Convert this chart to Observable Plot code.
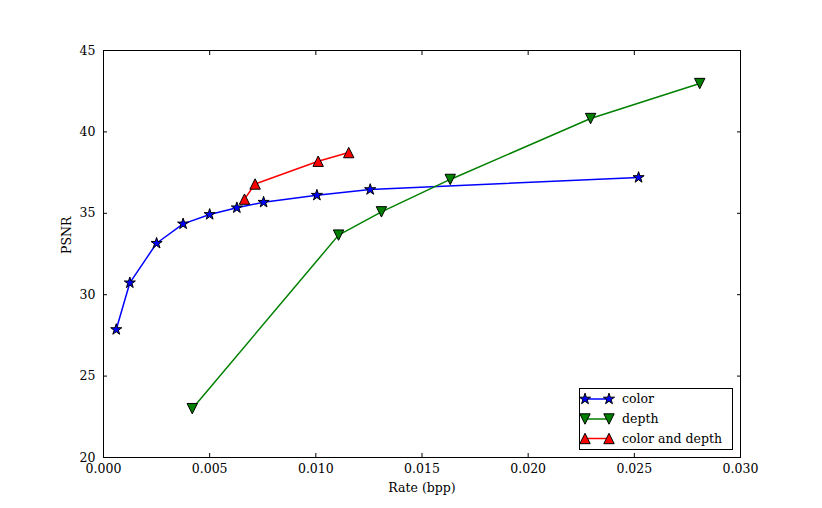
<!DOCTYPE html>
<html>
<head>
<meta charset="utf-8">
<script src="https://cdn.jsdelivr.net/npm/d3@7"></script>
<script src="https://cdn.jsdelivr.net/npm/@observablehq/plot@0.6"></script>
<style>
  html, body { margin: 0; padding: 0; background: white; }
</style>
</head>
<body>
<div id="chart"></div>
<script>
// ---- data ----
const seriesNames = ["color", "depth", "color and depth"];
const seriesColors = ["#0000ff", "#008000", "#ff0000"];

const colorRate = [0.0006, 0.00124, 0.0025, 0.00375, 0.005, 0.00628, 0.00754, 0.01005, 0.01256, 0.0252];
const colorPsnr = [27.86, 30.73, 33.16, 34.35, 34.93, 35.34, 35.68, 36.11, 36.46, 37.20];

const depthRate = [0.00418, 0.01107, 0.01309, 0.01633, 0.02294, 0.02808];
const depthPsnr = [23.0, 33.66, 35.09, 37.08, 40.82, 42.97];

const bothRate = [0.00664, 0.00714, 0.01011, 0.01155];
const bothPsnr = [35.87, 36.80, 38.20, 38.73];

const xTicks = [0, 0.005, 0.010, 0.015, 0.020, 0.025, 0.030];
const yTicks = [20, 25, 30, 35, 40, 45];

const toRows = (xs, ys) => xs.map((x, i) => ({x, y: ys[i]}));
const colorRows = toRows(colorRate, colorPsnr);
const depthRows = toRows(depthRate, depthPsnr);
const bothRows = toRows(bothRate, bothPsnr);

// custom triangle symbols (matplotlib "^" and "v")
const triUp = {draw(ctx, size) { const h = Math.sqrt(size / Math.PI); ctx.moveTo(0, -h); ctx.lineTo(h, h); ctx.lineTo(-h, h); ctx.closePath(); }};
const triDown = {draw(ctx, size) { const h = Math.sqrt(size / Math.PI); ctx.moveTo(0, h); ctx.lineTo(h, -h); ctx.lineTo(-h, -h); ctx.closePath(); }};

const starR = 3.5, triR = 5.2;

const chart = Plot.plot({
  width: 822,
  height: 508,
  marginLeft: 103,
  marginRight: 82,
  marginTop: 50,
  marginBottom: 51,
  style: {fontFamily: "DejaVu Serif", fontSize: "12.5px", background: "white", color: "black"},
  x: {domain: [0, 0.03]},
  y: {domain: [20, 45]},
  marks: [
    Plot.axisX({anchor: "bottom", ticks: xTicks, tickSize: -4, tickPadding: 11, tickFormat: d3.format(".3f"), label: null}),
    Plot.axisX({anchor: "top", ticks: xTicks, tickSize: -4, tickFormat: () => "", label: null}),
    Plot.axisY({anchor: "left", ticks: yTicks, tickSize: -4, tickPadding: 12, tickFormat: d3.format("d"), label: null}),
    Plot.axisY({anchor: "right", ticks: yTicks, tickSize: -4, tickFormat: () => "", label: null}),
    Plot.text(["Rate (bpp)"], {frameAnchor: "bottom", dy: 34, text: d => d, fontSize: 12.5}),
    Plot.text(["PSNR"], {frameAnchor: "left", dx: -37, rotate: -90, text: d => d, fontSize: 12.5}),

    Plot.line(colorRows, {x: "x", y: "y", stroke: seriesColors[0], strokeWidth: 1.5}),
    Plot.dot(colorRows, {x: "x", y: "y", symbol: "star", r: starR, fill: seriesColors[0], stroke: "black", strokeWidth: 1}),

    Plot.line(depthRows, {x: "x", y: "y", stroke: seriesColors[1], strokeWidth: 1.5}),
    Plot.dot(depthRows, {x: "x", y: "y", symbol: triDown, r: triR, fill: seriesColors[1], stroke: "black", strokeWidth: 1}),

    Plot.line(bothRows, {x: "x", y: "y", stroke: seriesColors[2], strokeWidth: 1.5}),
    Plot.dot(bothRows, {x: "x", y: "y", symbol: triUp, r: triR, fill: seriesColors[2], stroke: "black", strokeWidth: 1}),

    Plot.frame({stroke: "black", strokeWidth: 1})
  ]
});

// ---- legend (inside the plot, lower right) ----
const svg = d3.select(chart);
const lg = svg.append("g").attr("font-family", "DejaVu Serif").attr("font-size", 12.5).attr("text-anchor", "start");
lg.append("rect").attr("x", 579.5).attr("y", 388.5).attr("width", 153).attr("height", 61)
  .attr("fill", "white").attr("stroke", "black").attr("stroke-width", 1);
const symbols = [
  {type: d3.symbolStar, r: starR},
  {type: triDown, r: triR},
  {type: triUp, r: triR}
];
const rowY = [399, 419, 438.5];
seriesNames.forEach((name, i) => {
  const y = rowY[i];
  lg.append("line").attr("x1", 585).attr("x2", 609).attr("y1", y).attr("y2", y)
    .attr("stroke", seriesColors[i]).attr("stroke-width", 1.5);
  const path = d3.symbol(symbols[i].type, Math.PI * symbols[i].r * symbols[i].r)();
  [585, 609].forEach(x => {
    lg.append("path").attr("d", path).attr("transform", `translate(${x},${y})`)
      .attr("fill", seriesColors[i]).attr("stroke", "black").attr("stroke-width", 1);
  });
  lg.append("text").attr("x", 622).attr("y", y).attr("dy", "0.32em").attr("text-anchor", "start").text(name);
});

document.getElementById("chart").appendChild(chart);
</script>
</body>
</html>
